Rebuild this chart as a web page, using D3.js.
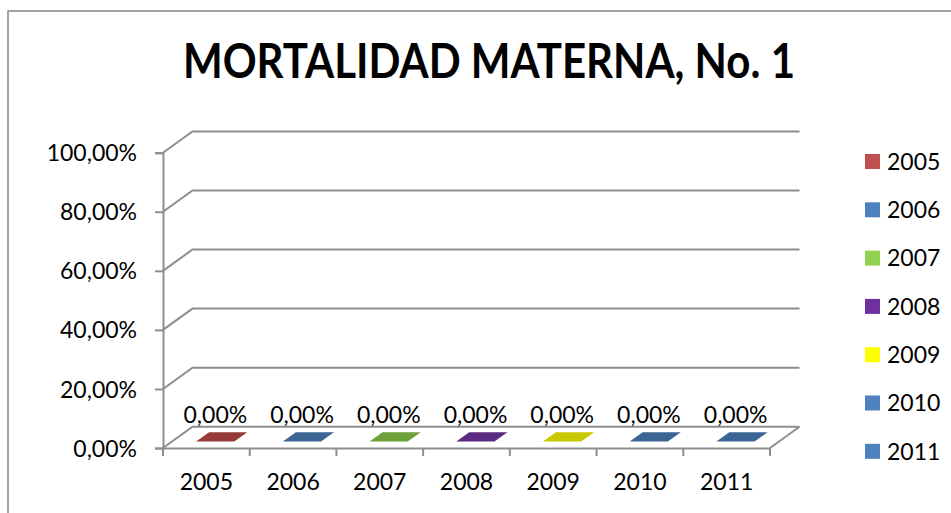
<!DOCTYPE html>
<html>
<head>
<meta charset="utf-8">
<script src="https://cdn.jsdelivr.net/npm/d3@7"></script>
<style>
  body { margin: 0; background: #fff; }
  svg { display: block; font-family: Lato, "Open Sans", sans-serif; }
</style>
</head>
<body>
<div id="chart"></div>
<script>
// chart data
var years = ["2005", "2006", "2007", "2008", "2009", "2010", "2011"];
var values = [0, 0, 0, 0, 0, 0, 0];
var yTicks = [0, 0.2, 0.4, 0.6, 0.8, 1];
var legendColors = ["#C0504D", "#4F81BD", "#92D050", "#7030A0", "#FFFF00", "#4F81BD", "#4F81BD"];
var topColors = ["#953A38", "#3C6494", "#6FA13A", "#5B2A83", "#C8C800", "#3C6494", "#3C6494"];

var width = 951, height = 513;

var svg = d3.select("#chart").append("svg")
  .attr("width", width)
  .attr("height", height);

// chart area border
svg.append("rect")
  .attr("x", 8).attr("y", 11)
  .attr("width", 960).attr("height", 520)
  .attr("fill", "none")
  .attr("stroke", "#868686")
  .attr("stroke-width", 1.5);

// title (Lato is wider than the original font, so squeeze it to the same width)
svg.append("text")
  .attr("x", 489).attr("y", 78)
  .attr("text-anchor", "middle")
  .attr("textLength", 612)
  .attr("lengthAdjust", "spacingAndGlyphs")
  .style("font-weight", "bold")
  .style("font-size", "48px")
  .attr("fill", "#000")
  .text("MORTALIDAD MATERNA, No. 1");

// 3d plot geometry
var plot = { left: 163, right: 770, top: 152.7, bottom: 448 };
var depth = { dx: 29.5, dy: -21.3 };

var x = d3.scaleBand().domain(years).range([plot.left, plot.right]).padding(0);
var y = d3.scaleLinear().domain([0, 1]).range([plot.bottom, plot.top]);

var pct = d3.formatLocale({ decimal: ",", thousands: ".", grouping: [3], currency: ["", ""] }).format(".2%");

var gridColor = "#8E8E8E";

// back wall + side wall gridlines
svg.append("g").selectAll("path")
  .data(yTicks)
  .enter().append("path")
  .attr("d", function(d) {
    var yy = y(d);
    return "M" + plot.left + "," + yy +
      "L" + (plot.left + depth.dx) + "," + (yy + depth.dy) +
      "L" + (plot.right + depth.dx) + "," + (yy + depth.dy);
  })
  .attr("fill", "none")
  .attr("stroke", gridColor)
  .attr("stroke-width", 2);

// floor right edge
svg.append("path")
  .attr("d", "M" + plot.right + "," + plot.bottom + "L" + (plot.right + depth.dx) + "," + (plot.bottom + depth.dy))
  .attr("fill", "none")
  .attr("stroke", gridColor)
  .attr("stroke-width", 2);

// y axis
var yAxis = svg.append("g")
  .attr("transform", "translate(" + plot.left + ",0)")
  .call(d3.axisLeft(y).tickValues(yTicks).tickFormat(pct).tickSize(8).tickPadding(18));
yAxis.select(".domain").attr("stroke", gridColor).attr("stroke-width", 2);
yAxis.selectAll(".tick line").attr("stroke", gridColor).attr("stroke-width", 2);
yAxis.selectAll(".tick text")
  .attr("fill", "#000")
  .style("font-size", "23px")
  .style("font-family", "Lato, sans-serif")
  .attr("dy", "0.35em");

// x axis (floor front edge)
var xAxis = svg.append("g")
  .attr("transform", "translate(0," + plot.bottom + ")")
  .call(d3.axisBottom(x).tickSize(0).tickPadding(26));
xAxis.select(".domain").attr("stroke", gridColor).attr("stroke-width", 2);
xAxis.selectAll(".tick text")
  .attr("fill", "#000")
  .style("font-size", "23px")
  .style("font-family", "Lato, sans-serif");
// ticks between categories
xAxis.selectAll(".xtick")
  .data(d3.range(years.length + 1))
  .enter().append("line")
  .attr("class", "xtick")
  .attr("x1", function(i) { return plot.left + i * x.bandwidth(); })
  .attr("x2", function(i) { return plot.left + i * x.bandwidth(); })
  .attr("y1", 0).attr("y2", 8)
  .attr("stroke", gridColor)
  .attr("stroke-width", 2);

// bars (flat top faces since all values are zero)
var barW = x.bandwidth() * 0.44;
var f1 = 0.3, f2 = 0.74;
svg.append("g").selectAll("path")
  .data(years)
  .enter().append("path")
  .attr("d", function(d, i) {
    var cx = x(d) + x.bandwidth() / 2;
    var yy = y(values[i]);
    var x0 = cx - barW / 2, x1 = cx + barW / 2;
    return "M" + (x0 + f1 * depth.dx) + "," + (yy + f1 * depth.dy) +
      "L" + (x1 + f1 * depth.dx) + "," + (yy + f1 * depth.dy) +
      "L" + (x1 + f2 * depth.dx) + "," + (yy + f2 * depth.dy) +
      "L" + (x0 + f2 * depth.dx) + "," + (yy + f2 * depth.dy) + "Z";
  })
  .attr("fill", function(d, i) { return topColors[i]; });

// data labels
svg.append("g").selectAll("text")
  .data(years)
  .enter().append("text")
  .attr("x", function(d) { return x(d) + x.bandwidth() / 2 + 9; })
  .attr("y", function(d, i) { return y(values[i]) - 25.5; })
  .attr("text-anchor", "middle")
  .style("font-size", "23px")
  .attr("fill", "#000")
  .text(function(d, i) { return pct(values[i]); });

// legend
var legend = svg.append("g").selectAll("g")
  .data(years)
  .enter().append("g")
  .attr("transform", function(d, i) { return "translate(865," + (161.5 + i * 48.3) + ")"; });
legend.append("rect")
  .attr("x", 0).attr("y", -7.5)
  .attr("width", 15).attr("height", 15)
  .attr("fill", function(d, i) { return legendColors[i]; });
legend.append("text")
  .attr("x", 22).attr("y", 0)
  .attr("dy", "0.36em")
  .style("font-size", "23px")
  .attr("fill", "#000")
  .text(function(d) { return d; });
</script>
</body>
</html>
